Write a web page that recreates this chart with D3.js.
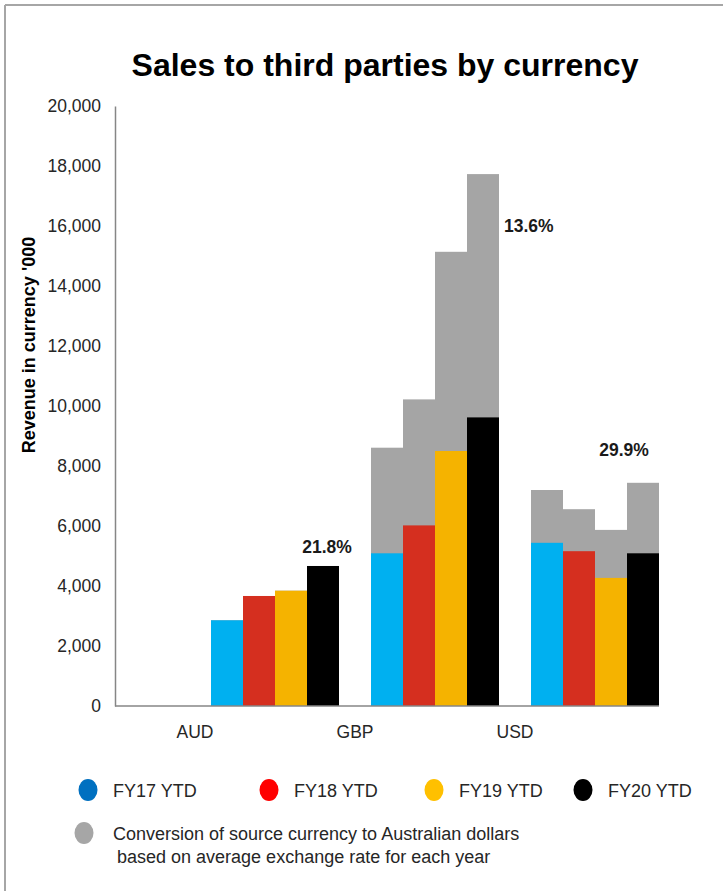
<!DOCTYPE html>
<html>
<head>
<meta charset="utf-8">
<script src="https://cdn.jsdelivr.net/npm/d3@7"></script>
<style>
  body { margin: 0; background: #fff; }
  svg { display: block; font-family: "Liberation Sans", Arial, sans-serif; }
</style>
</head>
<body>
<svg id="chart" width="723" height="891"></svg>
<script>
// categories and series
const categories = ["AUD", "GBP", "USD"];
const seriesNames = ["FY17 YTD", "FY18 YTD", "FY19 YTD", "FY20 YTD"];

// revenue in source currency ('000), one value per series
const audLocal = [2857, 3667, 3843, 4667];
const gbpLocal = [5090, 6020, 8500, 9620];
const usdLocal = [5440, 5160, 4270, 5090];

// same revenue converted to AUD ('000)
const audConverted = [2857, 3667, 3843, 4667];
const gbpConverted = [8610, 10220, 15140, 17730];
const usdConverted = [7200, 6560, 5870, 7440];

const growthLabels = ["21.8%", "13.6%", "29.9%"];
const yTicks = [0, 2000, 4000, 6000, 8000, 10000, 12000, 14000, 16000, 18000, 20000];

const barColors = ["#00b0f0", "#d52f1f", "#f5b300", "#000000"];
const legendColors = ["#0070c0", "#ff0000", "#ffc000", "#000000"];
const grey = "#a5a5a5";

const svg = d3.select("#chart");

// frame (left and top edges only visible)
svg.append("line").attr("x1", 5).attr("x2", 5).attr("y1", 5).attr("y2", 891)
    .attr("stroke", "#a6a6a6").attr("stroke-width", 2);
svg.append("line").attr("x1", 5).attr("x2", 723).attr("y1", 5).attr("y2", 5)
    .attr("stroke", "#a6a6a6").attr("stroke-width", 2);

svg.append("text")
    .attr("x", 385).attr("y", 76)
    .attr("text-anchor", "middle")
    .attr("font-size", 32).attr("font-weight", "bold")
    .text("Sales to third parties by currency");

// plot area
const plot = { left: 115, right: 659, top: 106, bottom: 706 };

const y = d3.scaleLinear().domain([0, 20000]).range([plot.bottom, plot.top]);

// Excel left a wide gap before the first group: 17 bar-slots across the axis,
// groups of 4 start at slot 3 with one empty slot between groups
const slot = d3.scaleLinear().domain([0, 17]).range([plot.left, plot.right]);
const xGroup = d3.scaleBand()
    .domain(categories)
    .range([slot(3), slot(17)])
    .paddingInner(0.2)
    .paddingOuter(0);
const xSeries = d3.scaleBand()
    .domain(seriesNames)
    .range([0, xGroup.bandwidth()]);

const rows = categories.map((c, i) => ({
    category: c,
    local: [audLocal, gbpLocal, usdLocal][i],
    converted: [audConverted, gbpConverted, usdConverted][i],
    growth: growthLabels[i]
}));

// y axis
const yAxis = svg.append("g")
    .attr("transform", `translate(${plot.left},0)`)
    .call(d3.axisLeft(y).tickValues(yTicks).tickSize(0).tickPadding(14)
        .tickFormat(d3.format(",d")));
yAxis.select(".domain").attr("stroke", "#868686").attr("stroke-width", 1.5);
yAxis.selectAll("text")
    .attr("font-size", 17.5)
    .attr("fill", "#262626")
    .style("font-family", "'Liberation Sans', Arial, sans-serif");

svg.append("text")
    .attr("transform", "translate(35,345) rotate(-90)")
    .attr("text-anchor", "middle")
    .attr("font-size", 18).attr("font-weight", "bold")
    .text("Revenue in currency '000");

// bars
const group = svg.selectAll("g.group")
    .data(rows)
    .join("g")
    .attr("class", "group")
    .attr("transform", d => `translate(${xGroup(d.category)},0)`);

// grey: converted value, drawn behind
group.selectAll("rect.conv")
    .data(d => d.converted.map((v, i) => ({ s: seriesNames[i], v })))
    .join("rect")
    .attr("class", "conv")
    .attr("x", d => xSeries(d.s))
    .attr("width", xSeries.bandwidth())
    .attr("y", d => y(d.v))
    .attr("height", d => y(0) - y(d.v))
    .attr("fill", grey);

group.selectAll("rect.local")
    .data(d => d.local.map((v, i) => ({ s: seriesNames[i], v, i })))
    .join("rect")
    .attr("class", "local")
    .attr("x", d => xSeries(d.s))
    .attr("width", xSeries.bandwidth())
    .attr("y", d => y(d.v))
    .attr("height", d => y(0) - y(d.v))
    .attr("fill", d => barColors[d.i]);

// x axis line
svg.append("line")
    .attr("x1", plot.left).attr("x2", slot(17))
    .attr("y1", y(0)).attr("y2", y(0))
    .attr("stroke", "#868686").attr("stroke-width", 1.5);

// category labels sit in the gap before each group
const gap = xGroup.step() * xGroup.paddingInner();
svg.selectAll("text.cat")
    .data(categories)
    .join("text")
    .attr("class", "cat")
    .attr("x", d => xGroup(d) - gap / 2)
    .attr("y", 738)
    .attr("text-anchor", "middle")
    .attr("font-size", 17.5)
    .attr("fill", "#262626")
    .text(d => d);

// growth labels, hand placed around the FY20 bar as in the original
const growthPlacement = [
    { dx: 4, dy: -13, anchor: "middle" },
    { dx: 21, dy: 58, anchor: "start" },
    { dx: -19, dy: -27, anchor: "middle" }
];
const last = seriesNames[seriesNames.length - 1];
svg.selectAll("text.growth")
    .data(rows)
    .join("text")
    .attr("class", "growth")
    .attr("x", (d, i) => xGroup(d.category) + xSeries(last) + xSeries.bandwidth() / 2 + growthPlacement[i].dx)
    .attr("y", (d, i) => y(d3.max(d.converted)) + growthPlacement[i].dy)
    .attr("text-anchor", (d, i) => growthPlacement[i].anchor)
    .attr("font-size", 17.5).attr("font-weight", "bold")
    .attr("fill", "#1a1a1a")
    .text(d => d.growth);

// legend
const legendX = [88, 269, 434, 583];
const legend = svg.selectAll("g.legend")
    .data(seriesNames)
    .join("g")
    .attr("class", "legend")
    .attr("transform", (d, i) => `translate(${legendX[i]},790)`);
legend.append("ellipse")
    .attr("rx", 9.5).attr("ry", 11)
    .attr("fill", (d, i) => legendColors[i]);
legend.append("text")
    .attr("x", 25).attr("y", 6.5)
    .attr("font-size", 18)
    .attr("fill", "#262626")
    .text(d => d);

const convLegend = svg.append("g").attr("transform", "translate(84,833)");
convLegend.append("ellipse").attr("rx", 9.5).attr("ry", 11).attr("fill", "#a6a6a6");
convLegend.append("text")
    .attr("font-size", 18).attr("fill", "#262626")
    .selectAll("tspan")
    .data(["Conversion of source currency to Australian dollars",
           "based on average exchange rate for each year"])
    .join("tspan")
    .attr("x", (d, i) => i === 0 ? 29 : 33)
    .attr("y", (d, i) => 6.5 + i * 23)
    .text(d => d);
</script>
</body>
</html>
